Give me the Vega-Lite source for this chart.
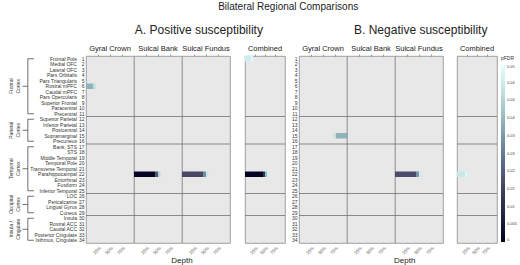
{
"$schema": "https://vega.github.io/schema/vega-lite/v6.json",
"padding": {"left": 2, "right": 0, "top": 1, "bottom": 2},
"title": {"text": "Bilateral Regional Comparisons", "fontSize": 10, "fontWeight": "normal", "color": "#222", "offset": 12, "anchor": "middle", "dx": 28},
"config": {
 "font": "Liberation Sans",
 "view": {"stroke": "#8c8c8c", "strokeWidth": 0.8, "fill": "#e8e8e8"},
 "title": {"fontWeight": "normal", "color": "#222", "fontSize": 7.5, "offset": 1, "anchor": "middle"},
 "axis": {"labelFontSize": 5, "labelColor": "#555", "ticks": false, "domain": false, "grid": false, "title": null}
},
"datasets": {
 "regions": [
  {"num": 1, "name": "Frontal Pole", "lobe": "Frontal\nCortex"},
  {"num": 2, "name": "Medial OFC", "lobe": "Frontal\nCortex"},
  {"num": 3, "name": "Lateral OFC", "lobe": "Frontal\nCortex"},
  {"num": 4, "name": "Pars Orbitalis", "lobe": "Frontal\nCortex"},
  {"num": 5, "name": "Pars Triangularis", "lobe": "Frontal\nCortex"},
  {"num": 6, "name": "Rostral mPFC", "lobe": "Frontal\nCortex"},
  {"num": 7, "name": "Caudal mPFC", "lobe": "Frontal\nCortex"},
  {"num": 8, "name": "Pars Opercularis", "lobe": "Frontal\nCortex"},
  {"num": 9, "name": "Superior Frontal", "lobe": "Frontal\nCortex"},
  {"num": 10, "name": "Paracentral", "lobe": "Frontal\nCortex"},
  {"num": 11, "name": "Precentral", "lobe": "Frontal\nCortex"},
  {"num": 12, "name": "Superior Parietal", "lobe": "Parietal\nCortex"},
  {"num": 13, "name": "Inferior Parietal", "lobe": "Parietal\nCortex"},
  {"num": 14, "name": "Postcentral", "lobe": "Parietal\nCortex"},
  {"num": 15, "name": "Supramarginal", "lobe": "Parietal\nCortex"},
  {"num": 16, "name": "Precuneus", "lobe": "Parietal\nCortex"},
  {"num": 17, "name": "Bank, STS", "lobe": "Temporal\nCortex"},
  {"num": 18, "name": "STS", "lobe": "Temporal\nCortex"},
  {"num": 19, "name": "Middle Temporal", "lobe": "Temporal\nCortex"},
  {"num": 20, "name": "Temporal Pole", "lobe": "Temporal\nCortex"},
  {"num": 21, "name": "Transverse Temporal", "lobe": "Temporal\nCortex"},
  {"num": 22, "name": "Parahippocampal", "lobe": "Temporal\nCortex"},
  {"num": 23, "name": "Entorhinal", "lobe": "Temporal\nCortex"},
  {"num": 24, "name": "Fusiform", "lobe": "Temporal\nCortex"},
  {"num": 25, "name": "Inferior Temporal", "lobe": "Temporal\nCortex"},
  {"num": 26, "name": "LOC", "lobe": "Occipital\nCortex"},
  {"num": 27, "name": "Pericalcarine", "lobe": "Occipital\nCortex"},
  {"num": 28, "name": "Lingual Gyrus", "lobe": "Occipital\nCortex"},
  {"num": 29, "name": "Cuneus", "lobe": "Occipital\nCortex"},
  {"num": 30, "name": "Insula", "lobe": "Insula /\nCingulate"},
  {"num": 31, "name": "Rostral ACC", "lobe": "Insula /\nCingulate"},
  {"num": 32, "name": "Caudal ACC", "lobe": "Insula /\nCingulate"},
  {"num": 33, "name": "Posterior Cingulate", "lobe": "Insula /\nCingulate"},
  {"num": 34, "name": "Isthmus, Cingulate", "lobe": "Insula /\nCingulate"}
 ],
 "lobes": [
  {"lobe": "Frontal", "start": 1, "end": 11},
  {"lobe": "Parietal", "start": 12, "end": 16},
  {"lobe": "Temporal", "start": 17, "end": 25},
  {"lobe": "Occipital", "start": 26, "end": 29},
  {"lobe": "Insula / Cingulate", "start": 30, "end": 34}
 ],
 "cells": [
  {"g": "A", "c": "Gyral Crown", "num": 6, "d0": 0, "d1": 0.15, "p": 0.034},
  {"g": "A", "c": "Gyral Crown", "num": 6, "d0": 0.15, "d1": 0.2, "p": 0.042},
  {"g": "A", "c": "Sulcal Bank", "num": 22, "d0": 0, "d1": 0.45, "p": 0.001},
  {"g": "A", "c": "Sulcal Bank", "num": 22, "d0": 0.45, "d1": 0.5, "p": 0.018},
  {"g": "A", "c": "Sulcal Bank", "num": 22, "d0": 0.5, "d1": 0.55, "p": 0.04},
  {"g": "A", "c": "Sulcal Fundus", "num": 22, "d0": 0, "d1": 0.45, "p": 0.016},
  {"g": "A", "c": "Sulcal Fundus", "num": 22, "d0": 0.45, "d1": 0.5, "p": 0.028},
  {"g": "A", "c": "Sulcal Fundus", "num": 22, "d0": 0.5, "d1": 0.55, "p": 0.044},
  {"g": "A", "c": "Combined", "num": 1, "d0": 0, "d1": 0.15, "p": 0.045},
  {"g": "A", "c": "Combined", "num": 1, "d0": 0.15, "d1": 0.2, "p": 0.048},
  {"g": "A", "c": "Combined", "num": 22, "d0": 0, "d1": 0.45, "p": 0.001},
  {"g": "A", "c": "Combined", "num": 22, "d0": 0.45, "d1": 0.5, "p": 0.012},
  {"g": "A", "c": "Combined", "num": 22, "d0": 0.5, "d1": 0.55, "p": 0.035},
  {"g": "A", "c": "Combined", "num": 22, "d0": 0.55, "d1": 0.6, "p": 0.046},
  {"g": "B", "c": "Gyral Crown", "num": 15, "d0": 0.72, "d1": 0.77, "p": 0.043},
  {"g": "B", "c": "Gyral Crown", "num": 15, "d0": 0.77, "d1": 1, "p": 0.034},
  {"g": "B", "c": "Sulcal Fundus", "num": 22, "d0": 0, "d1": 0.45, "p": 0.017},
  {"g": "B", "c": "Sulcal Fundus", "num": 22, "d0": 0.45, "d1": 0.5, "p": 0.03},
  {"g": "B", "c": "Sulcal Fundus", "num": 22, "d0": 0.5, "d1": 0.55, "p": 0.045},
  {"g": "B", "c": "Combined", "num": 22, "d0": 0, "d1": 0.2, "p": 0.044},
  {"g": "B", "c": "Combined", "num": 22, "d0": 0.2, "d1": 0.25, "p": 0.048}
 ]
},
"resolve": {"scale": {"color": "independent"}},
"spacing": 5,
"hconcat": [
 {
  "title": {"text": "A. Positive susceptibility", "fontSize": 12, "offset": 8, "dx": 55},
  "resolve": {"scale": {"color": "independent"}},
  "spacing": 0,
  "hconcat": [
   {
    "width": 76, "height": 187,
    "title": {"text": " ", "offset": 3},
    "view": {"stroke": null, "fill": null},
    "layer": [
     {"data": {"name": "regions"}, "mark": {"type": "text", "align": "right", "baseline": "middle", "fontSize": 5, "color": "#333", "dx": -1},
      "encoding": {"x": {"datum": 1, "type": "quantitative", "scale": {"domain": [0, 1]}, "axis": null},
       "y": {"field": "num", "type": "quantitative", "scale": {"domain": [0.5, 34.5], "reverse": true, "nice": false, "zero": false}, "axis": null},
       "text": {"field": "name"}}},
     {"data": {"name": "regions"}, "mark": {"type": "text", "angle": 270, "align": "center", "baseline": "middle", "fontSize": 5, "lineBreak": "\n", "color": "#333"},
      "encoding": {"x": {"datum": 0.12, "type": "quantitative"}, "y": {"aggregate": "mean", "field": "num", "type": "quantitative"}, "text": {"field": "lobe"}}},
     {"data": {"name": "lobes"}, "mark": {"type": "rule", "color": "#333", "strokeWidth": 0.7},
      "encoding": {"x": {"datum": 0.34, "type": "quantitative"}, "y": {"field": "start", "type": "quantitative"}, "y2": {"field": "end"}}},
     {"data": {"name": "lobes"}, "mark": {"type": "rule", "color": "#333", "strokeWidth": 0.7},
      "encoding": {"x": {"datum": 0.34, "type": "quantitative"}, "x2": {"datum": 0.42}, "y": {"field": "start", "type": "quantitative"}}},
     {"data": {"name": "lobes"}, "mark": {"type": "rule", "color": "#333", "strokeWidth": 0.7},
      "encoding": {"x": {"datum": 0.34, "type": "quantitative"}, "x2": {"datum": 0.42}, "y": {"field": "end", "type": "quantitative"}}},
     {"data": {"name": "regions"}, "mark": {"type": "rule", "color": "#333", "strokeWidth": 0.7},
      "encoding": {"x": {"datum": 0.27, "type": "quantitative"}, "x2": {"datum": 0.34}, "y": {"aggregate": "mean", "field": "num", "type": "quantitative"}, "detail": {"field": "lobe"}}}
    ]
   },
   {
    "title": {"text": "Depth", "orient": "bottom", "fontSize": 8, "offset": 2},
    "resolve": {"scale": {"color": "independent"}},
    "spacing": 13,
    "hconcat": [
     {
      "spacing": 0,
      "bounds": "flush",
      "resolve": {"scale": {"color": "independent"}},
      "hconcat": [
       {
        "width": 48, "height": 187, "title": {"text": "Gyral Crown"},
        "resolve": {"axis": {"x": "independent"}},
        "layer": [
         {"data": {"name": "regions"}, "mark": {"type": "rect", "opacity": 0},
          "encoding": {"y": {"field": "num", "type": "ordinal", "sort": "ascending", "scale": {"paddingInner": 0, "paddingOuter": 0}, "axis": {"labelFontSize": 5, "labelPadding": 2, "labelColor": "#333"}}}},
         {"data": {"name": "lobes"}, "transform": [{"filter": "datum.start > 1"}], "mark": {"type": "rule", "color": "#707070", "strokeWidth": 0.8},
          "encoding": {"y": {"field": "start", "type": "ordinal", "sort": "ascending", "bandPosition": 0}}},
         {"data": {"name": "cells"}, "transform": [{"filter": "datum.g === 'A' && datum.c === 'Gyral Crown'"}], "mark": "rect",
          "encoding": {
           "x": {"field": "d0", "type": "quantitative", "scale": {"domain": [0, 1], "nice": false}, "axis": {"values": [0.25, 0.5, 0.75], "format": ".0%", "labelAngle": -45, "labelFontSize": 4.5, "labelPadding": 2}},
           "x2": {"field": "d1"},
           "y": {"field": "num", "type": "ordinal", "sort": "ascending"},
           "color": {"field": "p", "type": "quantitative", "scale": {"domain": [0, 0.01825, 0.0373, 0.05], "range": ["#000000", "#515171", "#a6c7c6", "#ffffff"]}, "legend": null}}},
         {"data": {"name": "lobes"}, "mark": {"type": "rule", "opacity": 0},
          "encoding": {"x": {"datum": 0.5, "type": "quantitative", "axis": {"orient": "top", "values": [0.25, 0.5, 0.75], "labels": false, "ticks": true, "tickSize": 2, "tickColor": "#666", "tickWidth": 0.6, "domain": false}}}}
        ]
       },
       {
        "width": 48, "height": 187, "title": {"text": "Sulcal Bank"},
        "resolve": {"axis": {"x": "independent"}},
        "layer": [
         {"data": {"name": "regions"}, "mark": {"type": "rect", "opacity": 0},
          "encoding": {"y": {"field": "num", "type": "ordinal", "sort": "ascending", "scale": {"paddingInner": 0, "paddingOuter": 0}, "axis": null}}},
         {"data": {"name": "lobes"}, "transform": [{"filter": "datum.start > 1"}], "mark": {"type": "rule", "color": "#707070", "strokeWidth": 0.8},
          "encoding": {"y": {"field": "start", "type": "ordinal", "sort": "ascending", "bandPosition": 0}}},
         {"data": {"name": "cells"}, "transform": [{"filter": "datum.g === 'A' && datum.c === 'Sulcal Bank'"}], "mark": "rect",
          "encoding": {
           "x": {"field": "d0", "type": "quantitative", "scale": {"domain": [0, 1], "nice": false}, "axis": {"values": [0.25, 0.5, 0.75], "format": ".0%", "labelAngle": -45, "labelFontSize": 4.5, "labelPadding": 2}},
           "x2": {"field": "d1"},
           "y": {"field": "num", "type": "ordinal", "sort": "ascending"},
           "color": {"field": "p", "type": "quantitative", "scale": {"domain": [0, 0.01825, 0.0373, 0.05], "range": ["#000000", "#515171", "#a6c7c6", "#ffffff"]}, "legend": null}}},
         {"data": {"name": "lobes"}, "mark": {"type": "rule", "opacity": 0},
          "encoding": {"x": {"datum": 0.5, "type": "quantitative", "axis": {"orient": "top", "values": [0.25, 0.5, 0.75], "labels": false, "ticks": true, "tickSize": 2, "tickColor": "#666", "tickWidth": 0.6, "domain": false}}}}
        ]
       },
       {
        "width": 48, "height": 187, "title": {"text": "Sulcal Fundus"},
        "resolve": {"axis": {"x": "independent"}},
        "layer": [
         {"data": {"name": "regions"}, "mark": {"type": "rect", "opacity": 0},
          "encoding": {"y": {"field": "num", "type": "ordinal", "sort": "ascending", "scale": {"paddingInner": 0, "paddingOuter": 0}, "axis": null}}},
         {"data": {"name": "lobes"}, "transform": [{"filter": "datum.start > 1"}], "mark": {"type": "rule", "color": "#707070", "strokeWidth": 0.8},
          "encoding": {"y": {"field": "start", "type": "ordinal", "sort": "ascending", "bandPosition": 0}}},
         {"data": {"name": "cells"}, "transform": [{"filter": "datum.g === 'A' && datum.c === 'Sulcal Fundus'"}], "mark": "rect",
          "encoding": {
           "x": {"field": "d0", "type": "quantitative", "scale": {"domain": [0, 1], "nice": false}, "axis": {"values": [0.25, 0.5, 0.75], "format": ".0%", "labelAngle": -45, "labelFontSize": 4.5, "labelPadding": 2}},
           "x2": {"field": "d1"},
           "y": {"field": "num", "type": "ordinal", "sort": "ascending"},
           "color": {"field": "p", "type": "quantitative", "scale": {"domain": [0, 0.01825, 0.0373, 0.05], "range": ["#000000", "#515171", "#a6c7c6", "#ffffff"]}, "legend": null}}},
         {"data": {"name": "lobes"}, "mark": {"type": "rule", "opacity": 0},
          "encoding": {"x": {"datum": 0.5, "type": "quantitative", "axis": {"orient": "top", "values": [0.25, 0.5, 0.75], "labels": false, "ticks": true, "tickSize": 2, "tickColor": "#666", "tickWidth": 0.6, "domain": false}}}}
        ]
       }
      ]
     },
     {
      "width": 40, "height": 187, "title": {"text": "Combined"},
      "resolve": {"axis": {"x": "independent"}},
      "layer": [
       {"data": {"name": "regions"}, "mark": {"type": "rect", "opacity": 0},
        "encoding": {"y": {"field": "num", "type": "ordinal", "sort": "ascending", "scale": {"paddingInner": 0, "paddingOuter": 0}, "axis": null}}},
       {"data": {"name": "lobes"}, "transform": [{"filter": "datum.start > 1"}], "mark": {"type": "rule", "color": "#707070", "strokeWidth": 0.8},
        "encoding": {"y": {"field": "start", "type": "ordinal", "sort": "ascending", "bandPosition": 0}}},
       {"data": {"name": "cells"}, "transform": [{"filter": "datum.g === 'A' && datum.c === 'Combined'"}], "mark": "rect",
        "encoding": {
         "x": {"field": "d0", "type": "quantitative", "scale": {"domain": [0, 1], "nice": false}, "axis": {"values": [0.25, 0.5, 0.75], "format": ".0%", "labelAngle": -45, "labelFontSize": 4.5, "labelPadding": 2}},
         "x2": {"field": "d1"},
         "y": {"field": "num", "type": "ordinal", "sort": "ascending"},
         "color": {"field": "p", "type": "quantitative", "scale": {"domain": [0, 0.01825, 0.0373, 0.05], "range": ["#000000", "#515171", "#a6c7c6", "#ffffff"]}, "legend": null}}},
       {"data": {"name": "lobes"}, "mark": {"type": "rule", "opacity": 0},
        "encoding": {"x": {"datum": 0.5, "type": "quantitative", "axis": {"orient": "top", "values": [0.25, 0.5, 0.75], "labels": false, "ticks": true, "tickSize": 2, "tickColor": "#666", "tickWidth": 0.6, "domain": false}}}}
      ]
     }
    ]
   }
  ]
 },
 {
  "title": {"text": "B. Negative susceptibility", "fontSize": 12, "offset": 8, "dx": 16},
  "resolve": {"scale": {"color": "independent"}},
  "hconcat": [
   {
    "title": {"text": "Depth", "orient": "bottom", "fontSize": 8, "offset": 2},
    "resolve": {"scale": {"color": "independent"}},
    "spacing": 12,
    "hconcat": [
     {
      "spacing": 0,
      "bounds": "flush",
      "resolve": {"scale": {"color": "independent"}},
      "hconcat": [
       {
        "width": 48, "height": 187, "title": {"text": "Gyral Crown"},
        "resolve": {"axis": {"x": "independent"}},
        "layer": [
         {"data": {"name": "regions"}, "mark": {"type": "rect", "opacity": 0},
          "encoding": {"y": {"field": "num", "type": "ordinal", "sort": "ascending", "scale": {"paddingInner": 0, "paddingOuter": 0}, "axis": {"labelFontSize": 5, "labelPadding": 2, "labelColor": "#333"}}}},
         {"data": {"name": "lobes"}, "transform": [{"filter": "datum.start > 1"}], "mark": {"type": "rule", "color": "#707070", "strokeWidth": 0.8},
          "encoding": {"y": {"field": "start", "type": "ordinal", "sort": "ascending", "bandPosition": 0}}},
         {"data": {"name": "cells"}, "transform": [{"filter": "datum.g === 'B' && datum.c === 'Gyral Crown'"}], "mark": "rect",
          "encoding": {
           "x": {"field": "d0", "type": "quantitative", "scale": {"domain": [0, 1], "nice": false}, "axis": {"values": [0.25, 0.5, 0.75], "format": ".0%", "labelAngle": -45, "labelFontSize": 4.5, "labelPadding": 2}},
           "x2": {"field": "d1"},
           "y": {"field": "num", "type": "ordinal", "sort": "ascending"},
           "color": {"field": "p", "type": "quantitative", "scale": {"domain": [0, 0.01825, 0.0373, 0.05], "range": ["#000000", "#515171", "#a6c7c6", "#ffffff"]}, "legend": null}}},
         {"data": {"name": "lobes"}, "mark": {"type": "rule", "opacity": 0},
          "encoding": {"x": {"datum": 0.5, "type": "quantitative", "axis": {"orient": "top", "values": [0.25, 0.5, 0.75], "labels": false, "ticks": true, "tickSize": 2, "tickColor": "#666", "tickWidth": 0.6, "domain": false}}}}
        ]
       },
       {
        "width": 48, "height": 187, "title": {"text": "Sulcal Bank"},
        "resolve": {"axis": {"x": "independent"}},
        "layer": [
         {"data": {"name": "regions"}, "mark": {"type": "rect", "opacity": 0},
          "encoding": {"y": {"field": "num", "type": "ordinal", "sort": "ascending", "scale": {"paddingInner": 0, "paddingOuter": 0}, "axis": null}}},
         {"data": {"name": "lobes"}, "transform": [{"filter": "datum.start > 1"}], "mark": {"type": "rule", "color": "#707070", "strokeWidth": 0.8},
          "encoding": {"y": {"field": "start", "type": "ordinal", "sort": "ascending", "bandPosition": 0}}},
         {"data": {"name": "cells"}, "transform": [{"filter": "datum.g === 'B' && datum.c === 'Sulcal Bank'"}], "mark": "rect",
          "encoding": {
           "x": {"field": "d0", "type": "quantitative", "scale": {"domain": [0, 1], "nice": false}, "axis": {"values": [0.25, 0.5, 0.75], "format": ".0%", "labelAngle": -45, "labelFontSize": 4.5, "labelPadding": 2}},
           "x2": {"field": "d1"},
           "y": {"field": "num", "type": "ordinal", "sort": "ascending"},
           "color": {"field": "p", "type": "quantitative", "scale": {"domain": [0, 0.01825, 0.0373, 0.05], "range": ["#000000", "#515171", "#a6c7c6", "#ffffff"]}, "legend": null}}},
         {"data": {"name": "lobes"}, "mark": {"type": "rule", "opacity": 0},
          "encoding": {"x": {"datum": 0.5, "type": "quantitative", "axis": {"orient": "top", "values": [0.25, 0.5, 0.75], "labels": false, "ticks": true, "tickSize": 2, "tickColor": "#666", "tickWidth": 0.6, "domain": false}}}}
        ]
       },
       {
        "width": 48, "height": 187, "title": {"text": "Sulcal Fundus"},
        "resolve": {"axis": {"x": "independent"}},
        "layer": [
         {"data": {"name": "regions"}, "mark": {"type": "rect", "opacity": 0},
          "encoding": {"y": {"field": "num", "type": "ordinal", "sort": "ascending", "scale": {"paddingInner": 0, "paddingOuter": 0}, "axis": null}}},
         {"data": {"name": "lobes"}, "transform": [{"filter": "datum.start > 1"}], "mark": {"type": "rule", "color": "#707070", "strokeWidth": 0.8},
          "encoding": {"y": {"field": "start", "type": "ordinal", "sort": "ascending", "bandPosition": 0}}},
         {"data": {"name": "cells"}, "transform": [{"filter": "datum.g === 'B' && datum.c === 'Sulcal Fundus'"}], "mark": "rect",
          "encoding": {
           "x": {"field": "d0", "type": "quantitative", "scale": {"domain": [0, 1], "nice": false}, "axis": {"values": [0.25, 0.5, 0.75], "format": ".0%", "labelAngle": -45, "labelFontSize": 4.5, "labelPadding": 2}},
           "x2": {"field": "d1"},
           "y": {"field": "num", "type": "ordinal", "sort": "ascending"},
           "color": {"field": "p", "type": "quantitative", "scale": {"domain": [0, 0.01825, 0.0373, 0.05], "range": ["#000000", "#515171", "#a6c7c6", "#ffffff"]}, "legend": null}}},
         {"data": {"name": "lobes"}, "mark": {"type": "rule", "opacity": 0},
          "encoding": {"x": {"datum": 0.5, "type": "quantitative", "axis": {"orient": "top", "values": [0.25, 0.5, 0.75], "labels": false, "ticks": true, "tickSize": 2, "tickColor": "#666", "tickWidth": 0.6, "domain": false}}}}
        ]
       }
      ]
     },
     {
      "width": 40, "height": 187, "title": {"text": "Combined"},
      "resolve": {"axis": {"x": "independent"}},
      "layer": [
       {"data": {"name": "regions"}, "mark": {"type": "rect", "opacity": 0},
        "encoding": {"y": {"field": "num", "type": "ordinal", "sort": "ascending", "scale": {"paddingInner": 0, "paddingOuter": 0}, "axis": null}}},
       {"data": {"name": "lobes"}, "transform": [{"filter": "datum.start > 1"}], "mark": {"type": "rule", "color": "#707070", "strokeWidth": 0.8},
        "encoding": {"y": {"field": "start", "type": "ordinal", "sort": "ascending", "bandPosition": 0}}},
       {"data": {"name": "cells"}, "transform": [{"filter": "datum.g === 'B' && datum.c === 'Combined'"}], "mark": "rect",
        "encoding": {
         "x": {"field": "d0", "type": "quantitative", "scale": {"domain": [0, 1], "nice": false}, "axis": {"values": [0.25, 0.5, 0.75], "format": ".0%", "labelAngle": -45, "labelFontSize": 4.5, "labelPadding": 2}},
         "x2": {"field": "d1"},
         "y": {"field": "num", "type": "ordinal", "sort": "ascending"},
         "color": {"field": "p", "type": "quantitative", "scale": {"domain": [0, 0.01825, 0.0373, 0.05], "range": ["#000000", "#515171", "#a6c7c6", "#ffffff"]},
          "legend": {"title": "pFDR", "titleFontSize": 5, "titleFontWeight": "normal", "titleColor": "#333", "labelFontSize": 4, "labelColor": "#444", "gradientLength": 177, "gradientThickness": 4, "values": [0, 0.005, 0.01, 0.015, 0.02, 0.025, 0.03, 0.035, 0.04, 0.045, 0.05], "format": "~g", "offset": 4, "titlePadding": 4, "labelOffset": 2, "gradientStrokeWidth": 0, "padding": 0}}}},
       {"data": {"name": "lobes"}, "mark": {"type": "rule", "opacity": 0},
        "encoding": {"x": {"datum": 0.5, "type": "quantitative", "axis": {"orient": "top", "values": [0.25, 0.5, 0.75], "labels": false, "ticks": true, "tickSize": 2, "tickColor": "#666", "tickWidth": 0.6, "domain": false}}}}
      ]
     }
    ]
   }
  ]
 }
]
}
